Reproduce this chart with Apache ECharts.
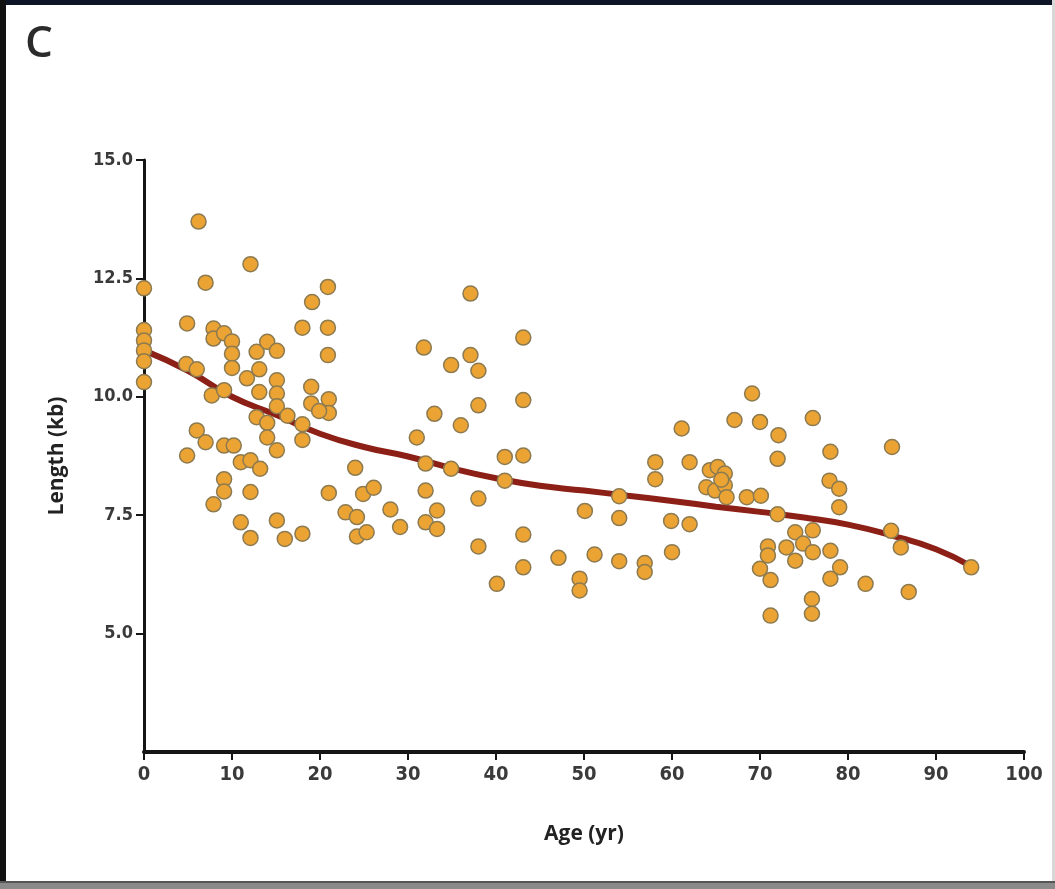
<!DOCTYPE html>
<html>
<head>
<meta charset="utf-8">
<title>Telomere length by age</title>
<script src="https://cdn.jsdelivr.net/npm/echarts@6/dist/echarts.min.js"></script>
<style>
  html, body { margin: 0; padding: 0; background: #ffffff; }
  #chart { width: 1055px; height: 889px; }
</style>
</head>
<body>
<div id="chart"></div>
<script>
// Individual measurements: age (years) and telomere length (kb)
const ages = [
  0, 0, 0, 0, 0, 0,
  4.9, 4.8, 6.0, 6.2, 7.0, 7.9, 7.9, 9.1, 10.0, 10.0, 10.0, 12.1, 12.8, 14.0,
  15.1, 11.7, 13.1, 13.1, 15.1, 15.1, 15.1, 7.7, 9.1, 18.0, 19.1, 20.9, 20.9, 20.9,
  19.0, 19.0, 21.0, 21.0, 19.9, 12.8, 14.0, 16.3, 18.0, 18.0, 14.0, 6.0, 7.0, 4.9,
  9.1, 10.2, 11.0, 12.1, 13.2, 15.1, 9.1, 9.1, 7.9, 12.1, 21.0, 24.0, 24.9, 26.1,
  22.9, 24.2, 28.0, 29.1, 11.0, 12.1, 15.1, 16.0, 18.0, 24.2, 25.3,
  31.0, 31.8, 32.0, 32.0, 32.0, 33.3, 33.3, 33.0, 34.9, 34.9, 36.0, 37.1, 37.1,
  38.0, 38.0, 38.0, 38.0, 40.1, 41.0, 41.0, 43.1, 43.1, 43.1, 43.1, 43.1,
  47.1, 49.5, 49.5, 50.1, 51.2, 54.0, 54.0, 54.0, 56.9, 56.9, 58.1, 58.1, 59.9,
  60.0, 61.1, 62.0, 62.0, 64.3, 65.2, 66.0, 63.9, 64.9, 66.0, 66.2, 65.6, 68.5,
  70.1, 69.1, 67.1, 70.0, 72.1, 72.0, 76.0, 78.0, 85.0, 77.9, 79.0, 79.0, 72.0,
  74.0, 76.0, 84.9, 86.0, 94.0, 70.9, 70.9, 73.0, 74.9, 74.0, 76.0, 78.0, 70.0,
  71.2, 79.1, 78.0, 82.0, 86.9, 75.9, 75.9, 71.2
];
const lengths = [
  12.29, 11.41, 11.19, 10.98, 10.75, 10.31,
  11.55, 10.69, 10.58, 13.70, 12.41, 11.44, 11.23, 11.34, 11.17, 10.91, 10.61, 12.80, 10.95, 11.16,
  10.97, 10.39, 10.58, 10.10, 10.35, 10.07, 9.80, 10.03, 10.14, 11.46, 12.00, 12.32, 11.46, 10.88,
  10.21, 9.86, 9.95, 9.66, 9.70, 9.57, 9.45, 9.60, 9.42, 9.09, 9.14, 9.29, 9.04, 8.76,
  8.97, 8.97, 8.62, 8.66, 8.48, 8.87, 8.26, 8.00, 7.73, 7.99, 7.97, 8.50, 7.95, 8.08,
  7.56, 7.46, 7.62, 7.25, 7.35, 7.02, 7.39, 7.00, 7.11, 7.05, 7.14,
  9.14, 11.04, 8.59, 8.02, 7.35, 7.60, 7.21, 9.64, 10.67, 8.48, 9.40, 12.18, 10.88,
  10.55, 9.82, 7.85, 6.84, 6.05, 8.73, 8.23, 11.25, 9.93, 8.76, 7.09, 6.40,
  6.60, 6.16, 5.91, 7.59, 6.67, 7.90, 7.44, 6.53, 6.49, 6.30, 8.62, 8.26, 7.38,
  6.72, 9.33, 8.62, 7.31, 8.45, 8.52, 8.38, 8.09, 8.02, 8.13, 7.88, 8.25, 7.88,
  7.91, 10.07, 9.51, 9.47, 9.19, 8.69, 9.55, 8.84, 8.94, 8.23, 8.06, 7.67, 7.52,
  7.14, 7.18, 7.17, 6.82, 6.40, 6.84, 6.65, 6.82, 6.90, 6.54, 6.72, 6.75, 6.37,
  6.13, 6.40, 6.16, 6.05, 5.88, 5.73, 5.42, 5.38
];

// Fitted trend curve
const trendAges =    [0,     5,     10,   15,   20,   25,   30,   35,   40,   45,   50,   55,   60,   65,   70,   75,   80,   85,   90,   94];
const trendLengths = [10.98, 10.55, 10.0, 9.62, 9.22, 8.94, 8.74, 8.49, 8.28, 8.12, 8.02, 7.91, 7.80, 7.68, 7.57, 7.45, 7.30, 7.07, 6.78, 6.42];

// Axis settings
const xTicks = { min: 0, max: 100, step: 10 };
const yTicks = { min: 2.5, max: 15, step: 2.5 };

const points = ages.map((a, i) => [a, lengths[i]]);
const trend = trendAges.map((a, i) => [a, trendLengths[i]]);

const chart = echarts.init(document.getElementById('chart'), null, { renderer: 'canvas' });

const labelFont = "'DejaVu Sans Condensed', 'DejaVu Sans', sans-serif";
const boldFont = "'Open Sans', 'DejaVu Sans', sans-serif";

chart.setOption({
  backgroundColor: '#ffffff',
  animation: false,
  grid: { left: 144, right: 31, top: 160, bottom: 137, containLabel: false },
  graphic: [
    // panel frame
    { type: 'rect', left: 0, top: 0, shape: { width: 1055, height: 5 }, style: { fill: '#0e1526' }, z: 100 },
    { type: 'rect', left: 0, top: 0, shape: { width: 6, height: 889 }, style: { fill: '#111111' }, z: 100 },
    { type: 'rect', left: 1052, top: 0, shape: { width: 3, height: 889 }, style: { fill: '#d8d8d8' }, z: 100 },
    { type: 'rect', left: 0, top: 881, shape: { width: 1055, height: 8 }, style: { fill: '#8a8a8a' }, z: 100 },
    { type: 'rect', left: 0, top: 881, shape: { width: 1055, height: 2 }, style: { fill: '#555555' }, z: 101 },
    // panel letter
    { type: 'text', left: 25, top: 22, style: { text: 'C', fontSize: 44, fontFamily: boldFont, fontWeight: 600, fill: '#2b2b2b' } }
  ],
  xAxis: {
    type: 'value',
    min: xTicks.min, max: xTicks.max, interval: xTicks.step,
    name: 'Age (yr)',
    nameLocation: 'middle',
    nameGap: 72,
    nameTextStyle: { fontSize: 21, fontWeight: 'bold', fontFamily: boldFont, color: '#222' },
    axisLine: { show: true, lineStyle: { color: '#151515', width: 4 } },
    axisTick: { show: true, length: 8, lineStyle: { color: '#151515', width: 2 } },
    axisLabel: { fontSize: 20, fontWeight: 'bold', fontFamily: labelFont, color: '#3a3a3a', margin: 13 },
    splitLine: { show: false }
  },
  yAxis: {
    type: 'value',
    min: yTicks.min, max: yTicks.max, interval: yTicks.step,
    name: 'Length (kb)',
    nameLocation: 'middle',
    nameGap: 76,
    nameRotate: 90,
    nameTextStyle: { fontSize: 21, fontWeight: 'bold', fontFamily: boldFont, color: '#222' },
    axisLine: { show: true, lineStyle: { color: '#151515', width: 3 } },
    axisTick: { show: true, length: 8, lineStyle: { color: '#151515', width: 2 } },
    axisLabel: {
      fontSize: 18, fontWeight: 'bold', fontFamily: labelFont, color: '#3a3a3a', margin: 11,
      showMinLabel: false,
      formatter: v => v.toFixed(1)
    },
    splitLine: { show: false }
  },
  series: [
    {
      type: 'line',
      data: trend,
      smooth: true,
      showSymbol: false,
      lineStyle: { color: '#8c2017', width: 6 },
      z: 2
    },
    {
      type: 'scatter',
      data: points,
      symbol: 'circle',
      symbolSize: 15,
      itemStyle: { color: '#eba333', borderColor: '#8c7a50', borderWidth: 1.5, opacity: 1 },
      z: 3
    }
  ]
});
</script>
</body>
</html>
